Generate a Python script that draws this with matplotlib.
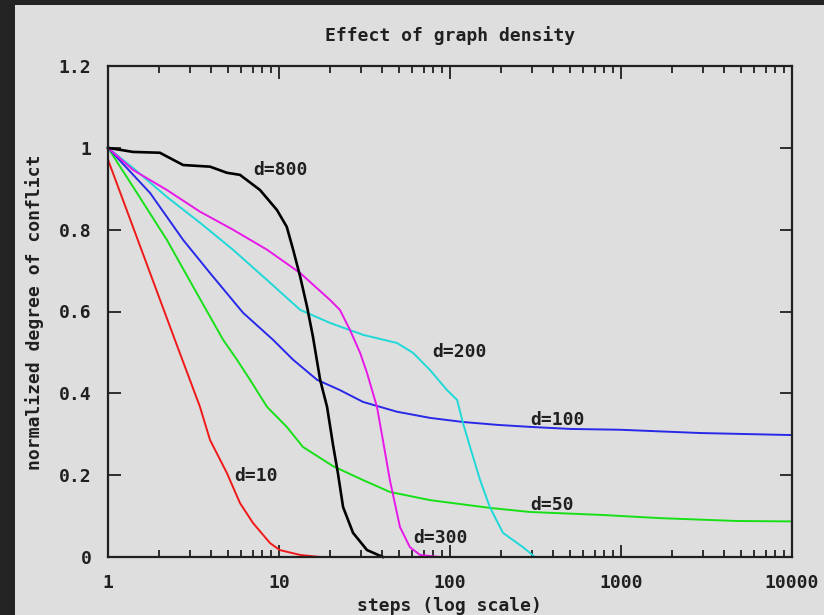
import matplotlib
matplotlib.use("Agg")
import matplotlib.pyplot as plt
from matplotlib.patches import Rectangle
from matplotlib.ticker import FixedLocator, NullFormatter, LogLocator

# normalized degree of conflict vs. number of steps, per graph density d
d10_x = [1, 1.54, 2.46, 3.45, 3.95, 4.96, 5.91, 7.05, 8.86, 10.1, 13.3, 17.4, 36.4]
d10_y = [0.971, 0.760, 0.531, 0.367, 0.286, 0.205, 0.132, 0.083, 0.034, 0.017, 0.005, 0.0, 0.0]

d50_x = [1, 1.44, 2.21, 3.45, 4.71, 5.68, 6.77, 8.51, 11.1, 13.8, 20.7, 31.0, 44.5,
         76.4, 171, 294, 754, 1690, 4770, 10000]
d50_y = [1.0, 0.897, 0.775, 0.631, 0.531, 0.482, 0.433, 0.367, 0.318, 0.269, 0.222,
         0.188, 0.159, 0.139, 0.120, 0.110, 0.103, 0.095, 0.088, 0.087]

d100_x = [1, 1.76, 2.75, 3.95, 6.16, 9.22, 12.1, 16.7, 22.7, 31.0, 49.0, 76.4, 119,
          188, 294, 503, 986, 2900, 10000]
d100_y = [1.0, 0.890, 0.775, 0.694, 0.597, 0.531, 0.482, 0.433, 0.408, 0.379, 0.355,
          0.340, 0.330, 0.323, 0.318, 0.313, 0.311, 0.303, 0.298]

d200_x = [1, 1.40, 2.21, 3.45, 5.38, 8.51, 13.3, 19.9, 31.0, 49.0, 60.8, 76.4, 96,
          110, 119, 131, 150, 171, 204, 267, 314]
d200_y = [1.0, 0.951, 0.880, 0.817, 0.751, 0.677, 0.604, 0.572, 0.543, 0.523, 0.499,
          0.457, 0.408, 0.384, 0.328, 0.269, 0.188, 0.122, 0.059, 0.024, 0.0]

d300_x = [1, 1.40, 2.21, 3.45, 5.38, 8.51, 13.3, 19.9, 22.7, 26.0, 29.8, 32.7, 37.4,
          40.5, 44.5, 51.0, 58.3, 66.8, 87.4]
d300_y = [1.0, 0.946, 0.897, 0.844, 0.800, 0.751, 0.694, 0.628, 0.604, 0.555, 0.499,
          0.450, 0.367, 0.286, 0.188, 0.073, 0.024, 0.005, 0.0]

d800_x = [1, 1.40, 2.01, 2.75, 3.95, 4.96, 5.91, 7.74, 9.73, 11.1, 12.1, 13.3, 14.6,
          15.8, 17.4, 19.1, 20.7, 22.1, 23.7, 27.1, 32.7, 40.5]
d800_y = [1.0, 0.990, 0.988, 0.958, 0.954, 0.939, 0.934, 0.897, 0.848, 0.807, 0.751,
          0.685, 0.611, 0.538, 0.433, 0.367, 0.274, 0.205, 0.122, 0.059, 0.017, 0.0]

labels = ["d=10", "d=50", "d=100", "d=200", "d=300", "d=800"]
label_x = [5.46, 294, 294, 78.5, 60.8, 7.05]
label_y = [0.198, 0.127, 0.335, 0.501, 0.046, 0.946]

x_ticks = [1, 10, 100, 1000, 10000]
x_ticklabels = ["1", "10", "100", "1000", "10000"]
y_ticks = [0, 0.2, 0.4, 0.6, 0.8, 1.0, 1.2]
y_ticklabels = ["0", "0.2", "0.4", "0.6", "0.8", "1", "1.2"]

series = [(d10_x, d10_y), (d50_x, d50_y), (d100_x, d100_y),
          (d200_x, d200_y), (d300_x, d300_y), (d800_x, d800_y)]
colors = ["#f01818", "#18e018", "#2828e8", "#20d8d8", "#e818e8", "#000000"]
widths = [1.4, 1.4, 1.4, 1.4, 1.4, 1.9]

BG = "#dedede"
INK = "#202020"
FONT = dict(family="DejaVu Sans Mono", weight="bold", size=13, color=INK)

fig = plt.figure(figsize=(8.24, 6.15), dpi=100, facecolor=BG)

# dark window edge along the left and top
fig.patches.append(Rectangle((0, 0), 15 / 824, 1, transform=fig.transFigure,
                             facecolor="#232323", edgecolor="none", zorder=0))
fig.patches.append(Rectangle((0, 1 - 5 / 615), 1, 5 / 615, transform=fig.transFigure,
                             facecolor="#232323", edgecolor="none", zorder=0))

ax = fig.add_axes([108 / 824, 1 - 557 / 615, (792 - 108) / 824, (557 - 66) / 615])
ax.set_facecolor(BG)
ax.set_xscale("log")
ax.set_xlim(1, 10000)
ax.set_ylim(0, 1.2)

for (xs, ys), c, lw in zip(series, colors, widths):
    ax.plot(xs, ys, color=c, lw=lw, clip_on=False, solid_joinstyle="miter")

for t, lx, ly in zip(labels, label_x, label_y):
    ax.text(lx, ly, t, ha="left", va="center", **FONT)

ax.xaxis.set_major_locator(FixedLocator(x_ticks))
ax.set_xticklabels(x_ticklabels)
ax.xaxis.set_minor_locator(LogLocator(base=10, subs=range(2, 10)))
ax.xaxis.set_minor_formatter(NullFormatter())
ax.set_yticks(y_ticks)
ax.set_yticklabels(y_ticklabels)

ax.tick_params(which="both", direction="in", top=True, right=True,
               color=INK, width=1.3)
ax.tick_params(which="major", length=9)
ax.tick_params(which="minor", length=5)
ax.tick_params(axis="x", which="major", pad=12)
ax.tick_params(axis="y", which="major", pad=12)
for lab in ax.get_xticklabels() + ax.get_yticklabels():
    lab.set_fontfamily("DejaVu Sans Mono")
    lab.set_fontweight("bold")
    lab.set_fontsize(13)
    lab.set_color(INK)

for sp in ax.spines.values():
    sp.set_color(INK)
    sp.set_linewidth(1.6)

fig.text(450 / 824, 1 - 36 / 615, "Effect of graph density", ha="center", va="center", **FONT)
fig.text(449 / 824, 1 - 606 / 615, "steps (log scale)", ha="center", va="center", **FONT)
fig.text(35 / 824, 1 - 312 / 615, "normalized degree of conflict", ha="center", va="center",
         rotation=90, **FONT)

fig.savefig("out.png", dpi=100, facecolor=BG)
